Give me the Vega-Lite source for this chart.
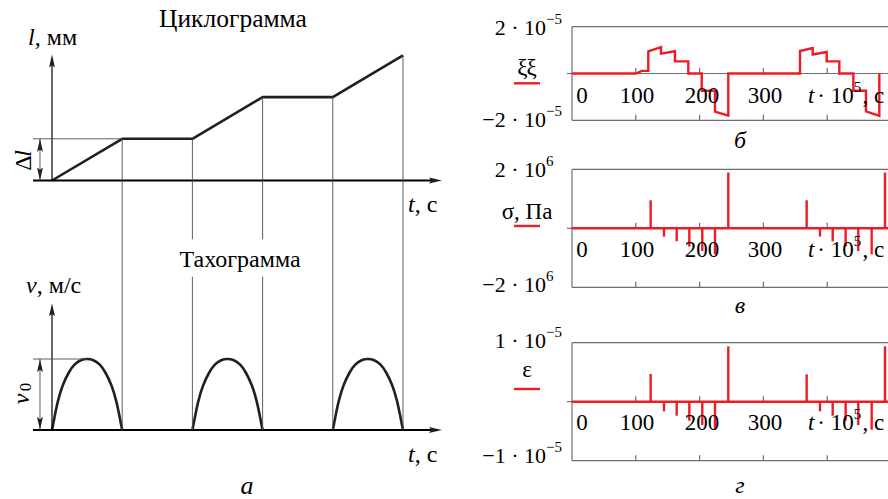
{
"$schema":"https://vega.github.io/schema/vega-lite/v6.json",
"width":888,"height":499,"padding":0,"autosize":{"type":"none"},
"background":"white",
"config":{"view":{"stroke":null},"mark":{"color":"#231f20","font":"Liberation Serif, DejaVu Serif, serif"},"text":{"font":"Liberation Serif, DejaVu Serif, serif","fontSize":22,"baseline":"alphabetic"},"point":{"opacity":1}},
"resolve":{"scale":{"x":"independent","y":"independent"}},
"layer":[
{"layer":[
 {"data":{"values":[{"t":0,"l":0},{"t":1,"l":1},{"t":2,"l":1},{"t":3,"l":2},{"t":4,"l":2},{"t":5,"l":3}]},
  "mark":{"type":"line","strokeWidth":2.6,"strokeJoin":"round"},
  "encoding":{"x":{"field":"t","type":"quantitative","scale":{"domain":[-0.7407,11.909],"nice":false,"zero":false},"axis":null},"y":{"field":"l","type":"quantitative","scale":{"domain":[-7.6379,4.3285],"nice":false,"zero":false},"axis":null}}},
 {"data":{"values":[{"t":-0.2707,"t2":5.45,"l":0}]},"mark":{"type":"rule","strokeWidth":1.8},
  "encoding":{"x":{"field":"t","type":"quantitative","scale":{"domain":[-0.7407,11.909],"nice":false,"zero":false},"axis":null},"x2":{"field":"t2"},"y":{"field":"l","type":"quantitative","scale":{"domain":[-7.6379,4.3285],"nice":false,"zero":false},"axis":null}}},
 {"data":{"values":[{"t":0,"l":0,"l2":2.9}]},"mark":{"type":"rule","strokeWidth":1.2},
  "encoding":{"x":{"field":"t","type":"quantitative","scale":{"domain":[-0.7407,11.909],"nice":false,"zero":false},"axis":null},"y":{"field":"l","type":"quantitative","scale":{"domain":[-7.6379,4.3285],"nice":false,"zero":false},"axis":null},"y2":{"field":"l2"}}},
 {"data":{"values":[{"t":-0.2707,"t2":1,"l":1,"l2":1},{"t":1,"t2":1,"l":1,"l2":-1.6667},{"t":2,"t2":2,"l":1,"l2":-1.41},{"t":3,"t2":3,"l":2,"l2":-1.41},{"t":4,"t2":4,"l":2,"l2":-1.6667},{"t":5,"t2":5,"l":3,"l2":-1.6667},{"t":-0.171,"t2":-0.171,"l":0,"l2":1}]},
  "mark":{"type":"rule","strokeWidth":0.9,"color":"#4d4d4d"},
  "encoding":{"x":{"field":"t","type":"quantitative","scale":{"domain":[-0.7407,11.909],"nice":false,"zero":false},"axis":null},"x2":{"field":"t2"},"y":{"field":"l","type":"quantitative","scale":{"domain":[-7.6379,4.3285],"nice":false,"zero":false},"axis":null},"y2":{"field":"l2"}}},
 {"data":{"values":[{"t":0,"l":3.02},{"t":-0.171,"l":1}]},"mark":{"type":"point","shape":"M0,0L0.5,2.2L0,1.8L-0.5,2.2Z","filled":true,"size":140,"strokeWidth":0},
  "encoding":{"x":{"field":"t","type":"quantitative","scale":{"domain":[-0.7407,11.909],"nice":false,"zero":false},"axis":null},"y":{"field":"l","type":"quantitative","scale":{"domain":[-7.6379,4.3285],"nice":false,"zero":false},"axis":null}}},
 {"data":{"values":[{"t":-0.171,"l":0}]},"mark":{"type":"point","shape":"M0,0L0.5,-2.2L0,-1.8L-0.5,-2.2Z","filled":true,"size":140,"strokeWidth":0},
  "encoding":{"x":{"field":"t","type":"quantitative","scale":{"domain":[-0.7407,11.909],"nice":false,"zero":false},"axis":null},"y":{"field":"l","type":"quantitative","scale":{"domain":[-7.6379,4.3285],"nice":false,"zero":false},"axis":null}}},
 {"data":{"values":[{"t":5.556,"l":0}]},"mark":{"type":"point","shape":"M0,0L-2.2,0.5L-1.8,0L-2.2,-0.5Z","filled":true,"size":140,"strokeWidth":0},
  "encoding":{"x":{"field":"t","type":"quantitative","scale":{"domain":[-0.7407,11.909],"nice":false,"zero":false},"axis":null},"y":{"field":"l","type":"quantitative","scale":{"domain":[-7.6379,4.3285],"nice":false,"zero":false},"axis":null}}},
 {"data":{"values":[{"t":2.578,"l":3.688,"txt":"Циклограмма"}]},"mark":{"type":"text","align":"center","fontSize":25.5,"font":"Liberation Serif, DejaVu Serif, serif"},
  "encoding":{"x":{"field":"t","type":"quantitative","scale":{"domain":[-0.7407,11.909],"nice":false,"zero":false},"axis":null},"y":{"field":"l","type":"quantitative","scale":{"domain":[-7.6379,4.3285],"nice":false,"zero":false},"axis":null},"text":{"field":"txt"}}},
 {"data":{"values":[{"t":-0.342,"l":3.249,"txt":"l"},{"t":5.071,"l":-0.748,"txt":"t"}]},"mark":{"type":"text","align":"left","fontSize":24,"fontStyle":"italic","font":"Liberation Serif, DejaVu Serif, serif"},
  "encoding":{"x":{"field":"t","type":"quantitative","scale":{"domain":[-0.7407,11.909],"nice":false,"zero":false},"axis":null},"y":{"field":"l","type":"quantitative","scale":{"domain":[-7.6379,4.3285],"nice":false,"zero":false},"axis":null},"text":{"field":"txt"}}},
 {"data":{"values":[{"t":-0.246,"l":3.249,"txt":", мм"},{"t":5.166,"l":-0.748,"txt":", с"}]},"mark":{"type":"text","align":"left","fontSize":24,"font":"Liberation Serif, DejaVu Serif, serif"},
  "encoding":{"x":{"field":"t","type":"quantitative","scale":{"domain":[-0.7407,11.909],"nice":false,"zero":false},"axis":null},"y":{"field":"l","type":"quantitative","scale":{"domain":[-7.6379,4.3285],"nice":false,"zero":false},"axis":null},"text":{"field":"txt"}}},
 {"data":{"values":[{"t":-0.399,"l":0.42,"txt":"Δ"}]},"mark":{"type":"text","align":"center","baseline":"middle","angle":270,"fontSize":24,"font":"Liberation Serif, DejaVu Serif, serif"},
  "encoding":{"x":{"field":"t","type":"quantitative","scale":{"domain":[-0.7407,11.909],"nice":false,"zero":false},"axis":null},"y":{"field":"l","type":"quantitative","scale":{"domain":[-7.6379,4.3285],"nice":false,"zero":false},"axis":null},"text":{"field":"txt"}}},
 {"data":{"values":[{"t":-0.399,"l":0.647,"txt":"l"}]},"mark":{"type":"text","align":"center","baseline":"middle","angle":270,"fontSize":24,"fontStyle":"italic","font":"Liberation Serif, DejaVu Serif, serif"},
  "encoding":{"x":{"field":"t","type":"quantitative","scale":{"domain":[-0.7407,11.909],"nice":false,"zero":false},"axis":null},"y":{"field":"l","type":"quantitative","scale":{"domain":[-7.6379,4.3285],"nice":false,"zero":false},"axis":null},"text":{"field":"txt"}}}
]},
{"layer":[
 {"data":{"values":[
  {"arch":1,"t":0,"v":0},{"arch":1,"t":0.036,"v":0.18},{"arch":1,"t":0.083,"v":0.4},{"arch":1,"t":0.154,"v":0.63},{"arch":1,"t":0.24,"v":0.81},{"arch":1,"t":0.32,"v":0.92},{"arch":1,"t":0.41,"v":0.982},{"arch":1,"t":0.5,"v":1},{"arch":1,"t":0.59,"v":0.982},{"arch":1,"t":0.68,"v":0.92},{"arch":1,"t":0.76,"v":0.81},{"arch":1,"t":0.846,"v":0.63},{"arch":1,"t":0.917,"v":0.4},{"arch":1,"t":0.964,"v":0.18},{"arch":1,"t":1,"v":0},
  {"arch":2,"t":2,"v":0},{"arch":2,"t":2.036,"v":0.18},{"arch":2,"t":2.083,"v":0.4},{"arch":2,"t":2.154,"v":0.63},{"arch":2,"t":2.24,"v":0.81},{"arch":2,"t":2.32,"v":0.92},{"arch":2,"t":2.41,"v":0.982},{"arch":2,"t":2.5,"v":1},{"arch":2,"t":2.59,"v":0.982},{"arch":2,"t":2.68,"v":0.92},{"arch":2,"t":2.76,"v":0.81},{"arch":2,"t":2.846,"v":0.63},{"arch":2,"t":2.917,"v":0.4},{"arch":2,"t":2.964,"v":0.18},{"arch":2,"t":3,"v":0},
  {"arch":3,"t":4,"v":0},{"arch":3,"t":4.036,"v":0.18},{"arch":3,"t":4.083,"v":0.4},{"arch":3,"t":4.154,"v":0.63},{"arch":3,"t":4.24,"v":0.81},{"arch":3,"t":4.32,"v":0.92},{"arch":3,"t":4.41,"v":0.982},{"arch":3,"t":4.5,"v":1},{"arch":3,"t":4.59,"v":0.982},{"arch":3,"t":4.68,"v":0.92},{"arch":3,"t":4.76,"v":0.81},{"arch":3,"t":4.846,"v":0.63},{"arch":3,"t":4.917,"v":0.4},{"arch":3,"t":4.964,"v":0.18},{"arch":3,"t":5,"v":0}]},
  "mark":{"type":"line","strokeWidth":2.6,"interpolate":"natural"},
  "encoding":{"x":{"field":"t","type":"quantitative","scale":{"domain":[-0.7407,11.909],"nice":false,"zero":false},"axis":null},"y":{"field":"v","type":"quantitative","scale":{"domain":[-0.9718,6.0563],"nice":false,"zero":false},"axis":null},"detail":{"field":"arch"}}},
 {"data":{"values":[{"t":-0.2707,"t2":5.45,"v":0}]},"mark":{"type":"rule","strokeWidth":1.8},
  "encoding":{"x":{"field":"t","type":"quantitative","scale":{"domain":[-0.7407,11.909],"nice":false,"zero":false},"axis":null},"x2":{"field":"t2"},"y":{"field":"v","type":"quantitative","scale":{"domain":[-0.9718,6.0563],"nice":false,"zero":false},"axis":null}}},
 {"data":{"values":[{"t":0,"v":0,"v2":1.7}]},"mark":{"type":"rule","strokeWidth":1.2},
  "encoding":{"x":{"field":"t","type":"quantitative","scale":{"domain":[-0.7407,11.909],"nice":false,"zero":false},"axis":null},"y":{"field":"v","type":"quantitative","scale":{"domain":[-0.9718,6.0563],"nice":false,"zero":false},"axis":null},"y2":{"field":"v2"}}},
 {"data":{"values":[{"t":-0.2707,"t2":0.5,"v":1,"v2":1},{"t":1,"t2":1,"v":2.535,"v2":0},{"t":2,"t2":2,"v":2.159,"v2":0},{"t":3,"t2":3,"v":2.159,"v2":0},{"t":4,"t2":4,"v":2.535,"v2":0},{"t":5,"t2":5,"v":2.535,"v2":0},{"t":-0.171,"t2":-0.171,"v":0,"v2":1}]},
  "mark":{"type":"rule","strokeWidth":0.9,"color":"#4d4d4d"},
  "encoding":{"x":{"field":"t","type":"quantitative","scale":{"domain":[-0.7407,11.909],"nice":false,"zero":false},"axis":null},"x2":{"field":"t2"},"y":{"field":"v","type":"quantitative","scale":{"domain":[-0.9718,6.0563],"nice":false,"zero":false},"axis":null},"y2":{"field":"v2"}}},
 {"data":{"values":[{"t":0,"v":1.785},{"t":-0.171,"v":1}]},"mark":{"type":"point","shape":"M0,0L0.5,2.2L0,1.8L-0.5,2.2Z","filled":true,"size":140,"strokeWidth":0},
  "encoding":{"x":{"field":"t","type":"quantitative","scale":{"domain":[-0.7407,11.909],"nice":false,"zero":false},"axis":null},"y":{"field":"v","type":"quantitative","scale":{"domain":[-0.9718,6.0563],"nice":false,"zero":false},"axis":null}}},
 {"data":{"values":[{"t":-0.171,"v":0}]},"mark":{"type":"point","shape":"M0,0L0.5,-2.2L0,-1.8L-0.5,-2.2Z","filled":true,"size":140,"strokeWidth":0},
  "encoding":{"x":{"field":"t","type":"quantitative","scale":{"domain":[-0.7407,11.909],"nice":false,"zero":false},"axis":null},"y":{"field":"v","type":"quantitative","scale":{"domain":[-0.9718,6.0563],"nice":false,"zero":false},"axis":null}}},
 {"data":{"values":[{"t":5.556,"v":0}]},"mark":{"type":"point","shape":"M0,0L-2.2,0.5L-1.8,0L-2.2,-0.5Z","filled":true,"size":140,"strokeWidth":0},
  "encoding":{"x":{"field":"t","type":"quantitative","scale":{"domain":[-0.7407,11.909],"nice":false,"zero":false},"axis":null},"y":{"field":"v","type":"quantitative","scale":{"domain":[-0.9718,6.0563],"nice":false,"zero":false},"axis":null}}},
 {"data":{"values":[{"t":2.678,"v":2.296,"txt":"Тахограмма"}]},"mark":{"type":"text","align":"center","fontSize":24,"font":"Liberation Serif, DejaVu Serif, serif"},
  "encoding":{"x":{"field":"t","type":"quantitative","scale":{"domain":[-0.7407,11.909],"nice":false,"zero":false},"axis":null},"y":{"field":"v","type":"quantitative","scale":{"domain":[-0.9718,6.0563],"nice":false,"zero":false},"axis":null},"text":{"field":"txt"}}},
 {"data":{"values":[{"t":-0.37,"v":1.93,"txt":"v"},{"t":5.071,"v":-0.446,"txt":"t"}]},"mark":{"type":"text","align":"left","fontSize":24,"fontStyle":"italic","font":"Liberation Serif, DejaVu Serif, serif"},
  "encoding":{"x":{"field":"t","type":"quantitative","scale":{"domain":[-0.7407,11.909],"nice":false,"zero":false},"axis":null},"y":{"field":"v","type":"quantitative","scale":{"domain":[-0.9718,6.0563],"nice":false,"zero":false},"axis":null},"text":{"field":"txt"}}},
 {"data":{"values":[{"t":-0.218,"v":1.93,"txt":", м/с"},{"t":5.166,"v":-0.446,"txt":", с"}]},"mark":{"type":"text","align":"left","fontSize":24,"font":"Liberation Serif, DejaVu Serif, serif"},
  "encoding":{"x":{"field":"t","type":"quantitative","scale":{"domain":[-0.7407,11.909],"nice":false,"zero":false},"axis":null},"y":{"field":"v","type":"quantitative","scale":{"domain":[-0.9718,6.0563],"nice":false,"zero":false},"axis":null},"text":{"field":"txt"}}},
 {"data":{"values":[{"t":2.778,"v":-0.901,"txt":"а"}]},"mark":{"type":"text","align":"center","fontSize":26,"fontStyle":"italic","font":"Liberation Serif, DejaVu Serif, serif"},
  "encoding":{"x":{"field":"t","type":"quantitative","scale":{"domain":[-0.7407,11.909],"nice":false,"zero":false},"axis":null},"y":{"field":"v","type":"quantitative","scale":{"domain":[-0.9718,6.0563],"nice":false,"zero":false},"axis":null},"text":{"field":"txt"}}},
 {"data":{"values":[{"t":-0.427,"v":0.437,"txt":"v"}]},"mark":{"type":"text","align":"center","baseline":"middle","angle":270,"fontSize":24,"fontStyle":"italic","font":"Liberation Serif, DejaVu Serif, serif"},
  "encoding":{"x":{"field":"t","type":"quantitative","scale":{"domain":[-0.7407,11.909],"nice":false,"zero":false},"axis":null},"y":{"field":"v","type":"quantitative","scale":{"domain":[-0.9718,6.0563],"nice":false,"zero":false},"axis":null},"text":{"field":"txt"}}},
 {"data":{"values":[{"t":-0.37,"v":0.606,"txt":"0"}]},"mark":{"type":"text","align":"center","baseline":"middle","angle":270,"fontSize":17,"font":"Liberation Serif, DejaVu Serif, serif"},
  "encoding":{"x":{"field":"t","type":"quantitative","scale":{"domain":[-0.7407,11.909],"nice":false,"zero":false},"axis":null},"y":{"field":"v","type":"quantitative","scale":{"domain":[-0.9718,6.0563],"nice":false,"zero":false},"axis":null},"text":{"field":"txt"}}}
]},
{"layer":[
 {"data":{"values":[{"t":0,"t2":495.3,"y":2e-5,"y2":2e-5},{"t":0,"t2":495.3,"y":-2e-5,"y2":-2e-5},{"t":0,"t2":0,"y":-2e-5,"y2":2e-5},{"t":0,"t2":495.3,"y":0,"y2":0}]},
  "mark":{"type":"rule","strokeWidth":1.2,"color":"#6d6e71"},
  "encoding":{"x":{"field":"t","type":"quantitative","scale":{"domain":[-896.55,495.3],"nice":false,"zero":false},"axis":null},"x2":{"field":"t2"},"y":{"field":"y","type":"quantitative","scale":{"domain":[-1.81838e-4,3.14103e-5],"nice":false,"zero":false},"axis":null},"y2":{"field":"y2"}}},
 {"data":{"values":[{"t":100,"y":0},{"t":200,"y":0},{"t":300,"y":0},{"t":400,"y":0},{"t":100,"y":-2e-5},{"t":200,"y":-2e-5},{"t":300,"y":-2e-5},{"t":400,"y":-2e-5}]},
  "mark":{"type":"point","shape":"M0,0L0,-1","filled":false,"size":121,"strokeWidth":1.2,"color":"#6d6e71"},
  "encoding":{"x":{"field":"t","type":"quantitative","scale":{"domain":[-896.55,495.3],"nice":false,"zero":false},"axis":null},"y":{"field":"y","type":"quantitative","scale":{"domain":[-1.81838e-4,3.14103e-5],"nice":false,"zero":false},"axis":null}}},
 {"data":{"values":[{"t":0,"y":0}]},
  "mark":{"type":"point","shape":"M-1,0L0,0","filled":false,"size":100,"strokeWidth":1.2,"color":"#6d6e71"},
  "encoding":{"x":{"field":"t","type":"quantitative","scale":{"domain":[-896.55,495.3],"nice":false,"zero":false},"axis":null},"y":{"field":"y","type":"quantitative","scale":{"domain":[-1.81838e-4,3.14103e-5],"nice":false,"zero":false},"axis":null}}},
 {"data":{"values":[{"i":1,"t":0,"y":0},{"i":2,"t":100.3,"y":0},{"i":3,"t":109.2,"y":1.13e-6},{"i":4,"t":119.6,"y":1.13e-6},{"i":5,"t":119.6,"y":9.5e-6},{"i":6,"t":139.5,"y":1.13e-5},{"i":7,"t":139.5,"y":8.5e-6},{"i":8,"t":161.4,"y":9.5e-6},{"i":9,"t":161.4,"y":5.2e-6},{"i":10,"t":182.3,"y":5.2e-6},{"i":11,"t":182.3,"y":0},{"i":12,"t":203.3,"y":0},{"i":13,"t":203.3,"y":-7.4e-6},{"i":14,"t":224.1,"y":-7.4e-6},{"i":15,"t":224.1,"y":-1.63e-5},{"i":16,"t":245,"y":-1.8e-5},{"i":17,"t":245,"y":0},{"i":18,"t":357.4,"y":0},{"i":19,"t":357.4,"y":9.6e-6},{"i":20,"t":377.3,"y":1.09e-5},{"i":21,"t":377.3,"y":8.1e-6},{"i":22,"t":399.2,"y":9.2e-6},{"i":23,"t":399.2,"y":5.2e-6},{"i":24,"t":419,"y":5.2e-6},{"i":25,"t":419,"y":0},{"i":26,"t":441,"y":0},{"i":27,"t":441,"y":-7.4e-6},{"i":28,"t":460.8,"y":-7.4e-6},{"i":29,"t":460.8,"y":-1.62e-5},{"i":30,"t":481.7,"y":-1.81e-5},{"i":31,"t":481.7,"y":0}]},
  "mark":{"type":"line","strokeWidth":2.4,"color":"#ed1c24","strokeJoin":"miter"},
  "encoding":{"x":{"field":"t","type":"quantitative","scale":{"domain":[-896.55,495.3],"nice":false,"zero":false},"axis":null},"y":{"field":"y","type":"quantitative","scale":{"domain":[-1.81838e-4,3.14103e-5],"nice":false,"zero":false},"axis":null},"order":{"field":"i"}}},
 {"data":{"values":[{"t":-90.91,"t2":-50.16,"y":-4.188e-6}]},"mark":{"type":"rule","strokeWidth":2.4,"color":"#ed1c24"},
  "encoding":{"x":{"field":"t","type":"quantitative","scale":{"domain":[-896.55,495.3],"nice":false,"zero":false},"axis":null},"x2":{"field":"t2"},"y":{"field":"y","type":"quantitative","scale":{"domain":[-1.81838e-4,3.14103e-5],"nice":false,"zero":false},"axis":null}}},
 {"data":{"values":[{"t":-40.75,"y":1.6453e-5,"txt":"2 · 10"},{"t":-40.75,"y":-2.2863e-5,"txt":"−2 · 10"}]},"mark":{"type":"text","align":"right","font":"Liberation Serif, DejaVu Serif, serif"},
  "encoding":{"x":{"field":"t","type":"quantitative","scale":{"domain":[-896.55,495.3],"nice":false,"zero":false},"axis":null},"y":{"field":"y","type":"quantitative","scale":{"domain":[-1.81838e-4,3.14103e-5],"nice":false,"zero":false},"axis":null},"text":{"field":"txt"}}},
 {"data":{"values":[{"t":-40.75,"y":1.6453e-5,"txt":"−5"},{"t":-40.75,"y":-2.2863e-5,"txt":"−5"},{"t":441.5,"y":-1.2607e-5,"txt":"5"}]},"mark":{"type":"text","align":"left","fontSize":15,"dy":-11,"font":"Liberation Serif, DejaVu Serif, serif"},
  "encoding":{"x":{"field":"t","type":"quantitative","scale":{"domain":[-896.55,495.3],"nice":false,"zero":false},"axis":null},"y":{"field":"y","type":"quantitative","scale":{"domain":[-1.81838e-4,3.14103e-5],"nice":false,"zero":false},"axis":null},"text":{"field":"txt"}}},
 {"data":{"values":[{"t":-70.53,"y":-6.41e-7,"txt":"ξξ"},{"t":15.67,"y":-1.2607e-5,"txt":"0"},{"t":101.88,"y":-1.2607e-5,"txt":"100"},{"t":203.76,"y":-1.2607e-5,"txt":"200"},{"t":302.51,"y":-1.2607e-5,"txt":"300"}]},"mark":{"type":"text","align":"center","fontSize":23,"font":"Liberation Serif, DejaVu Serif, serif"},
  "encoding":{"x":{"field":"t","type":"quantitative","scale":{"domain":[-896.55,495.3],"nice":false,"zero":false},"axis":null},"y":{"field":"y","type":"quantitative","scale":{"domain":[-1.81838e-4,3.14103e-5],"nice":false,"zero":false},"axis":null},"text":{"field":"txt"}}},
 {"data":{"values":[{"t":384.5,"y":-1.2607e-5,"txt":"· 10"},{"t":455.5,"y":-1.2607e-5,"txt":", с"}]},"mark":{"type":"text","align":"left","fontSize":23,"font":"Liberation Serif, DejaVu Serif, serif"},
  "encoding":{"x":{"field":"t","type":"quantitative","scale":{"domain":[-896.55,495.3],"nice":false,"zero":false},"axis":null},"y":{"field":"y","type":"quantitative","scale":{"domain":[-1.81838e-4,3.14103e-5],"nice":false,"zero":false},"axis":null},"text":{"field":"txt"}}},
 {"data":{"values":[{"t":369.91,"y":-1.2607e-5,"txt":"t"}]},"mark":{"type":"text","align":"left","fontSize":23,"fontStyle":"italic","font":"Liberation Serif, DejaVu Serif, serif"},
  "encoding":{"x":{"field":"t","type":"quantitative","scale":{"domain":[-896.55,495.3],"nice":false,"zero":false},"axis":null},"y":{"field":"y","type":"quantitative","scale":{"domain":[-1.81838e-4,3.14103e-5],"nice":false,"zero":false},"axis":null},"text":{"field":"txt"}}},
 {"data":{"values":[{"t":263.32,"y":-3.1838e-5,"txt":"б"}]},"mark":{"type":"text","align":"center","fontSize":24,"fontStyle":"italic","font":"Liberation Serif, DejaVu Serif, serif"},
  "encoding":{"x":{"field":"t","type":"quantitative","scale":{"domain":[-896.55,495.3],"nice":false,"zero":false},"axis":null},"y":{"field":"y","type":"quantitative","scale":{"domain":[-1.81838e-4,3.14103e-5],"nice":false,"zero":false},"axis":null},"text":{"field":"txt"}}}
]},
{"layer":[
 {"data":{"values":[{"t":0,"t2":495.3,"y":2e6,"y2":2e6},{"t":0,"t2":495.3,"y":-2e6,"y2":-2e6},{"t":0,"t2":0,"y":-2e6,"y2":2e6},{"t":0,"t2":495.3,"y":0,"y2":0}]},
  "mark":{"type":"rule","strokeWidth":1.2,"color":"#6d6e71"},
  "encoding":{"x":{"field":"t","type":"quantitative","scale":{"domain":[-896.55,495.3],"nice":false,"zero":false},"axis":null},"x2":{"field":"t2"},"y":{"field":"y","type":"quantitative","scale":{"domain":[-9.17627e6,7.73898e6],"nice":false,"zero":false},"axis":null},"y2":{"field":"y2"}}},
 {"data":{"values":[{"t":100,"y":0},{"t":200,"y":0},{"t":300,"y":0},{"t":400,"y":0},{"t":100,"y":-2e6},{"t":200,"y":-2e6},{"t":300,"y":-2e6},{"t":400,"y":-2e6}]},
  "mark":{"type":"point","shape":"M0,0L0,-1","filled":false,"size":121,"strokeWidth":1.2,"color":"#6d6e71"},
  "encoding":{"x":{"field":"t","type":"quantitative","scale":{"domain":[-896.55,495.3],"nice":false,"zero":false},"axis":null},"y":{"field":"y","type":"quantitative","scale":{"domain":[-9.17627e6,7.73898e6],"nice":false,"zero":false},"axis":null}}},
 {"data":{"values":[{"t":0,"y":0}]},
  "mark":{"type":"point","shape":"M-1,0L0,0","filled":false,"size":100,"strokeWidth":1.2,"color":"#6d6e71"},
  "encoding":{"x":{"field":"t","type":"quantitative","scale":{"domain":[-896.55,495.3],"nice":false,"zero":false},"axis":null},"y":{"field":"y","type":"quantitative","scale":{"domain":[-9.17627e6,7.73898e6],"nice":false,"zero":false},"axis":null}}},
 {"data":{"values":[{"t":0,"t2":495.3,"y":0}]},"mark":{"type":"rule","strokeWidth":2.4,"color":"#ed1c24"},
  "encoding":{"x":{"field":"t","type":"quantitative","scale":{"domain":[-896.55,495.3],"nice":false,"zero":false},"axis":null},"x2":{"field":"t2"},"y":{"field":"y","type":"quantitative","scale":{"domain":[-9.17627e6,7.73898e6],"nice":false,"zero":false},"axis":null}}},
 {"data":{"values":[{"t":123.3,"y":9.5e5},{"t":144.2,"y":-2.8e5},{"t":164.1,"y":-4.4e5},{"t":183.9,"y":-6.2e5},{"t":204.2,"y":-7.7e5},{"t":224.1,"y":-8.8e5},{"t":245,"y":1.89e6},{"t":367.8,"y":9.5e5},{"t":388.7,"y":-2.8e5},{"t":408.6,"y":-4.4e5},{"t":428.9,"y":-6.2e5},{"t":448.7,"y":-7.7e5},{"t":469.7,"y":-8.8e5},{"t":490.6,"y":1.89e6}]},
  "mark":{"type":"rule","strokeWidth":2.4,"color":"#ed1c24"},
  "encoding":{"x":{"field":"t","type":"quantitative","scale":{"domain":[-896.55,495.3],"nice":false,"zero":false},"axis":null},"y":{"field":"y","type":"quantitative","scale":{"domain":[-9.17627e6,7.73898e6],"nice":false,"zero":false},"axis":null},"y2":{"datum":0}}},
 {"data":{"values":[{"t":-90.91,"t2":-50.16,"y":7.8e4}]},"mark":{"type":"rule","strokeWidth":2.4,"color":"#ed1c24"},
  "encoding":{"x":{"field":"t","type":"quantitative","scale":{"domain":[-896.55,495.3],"nice":false,"zero":false},"axis":null},"x2":{"field":"t2"},"y":{"field":"y","type":"quantitative","scale":{"domain":[-9.17627e6,7.73898e6],"nice":false,"zero":false},"axis":null}}},
 {"data":{"values":[{"t":-40.75,"y":1.739e6,"txt":"2 · 10"},{"t":-40.75,"y":-2.149e6,"txt":"−2 · 10"}]},"mark":{"type":"text","align":"right","font":"Liberation Serif, DejaVu Serif, serif"},
  "encoding":{"x":{"field":"t","type":"quantitative","scale":{"domain":[-896.55,495.3],"nice":false,"zero":false},"axis":null},"y":{"field":"y","type":"quantitative","scale":{"domain":[-9.17627e6,7.73898e6],"nice":false,"zero":false},"axis":null},"text":{"field":"txt"}}},
 {"data":{"values":[{"t":-40.75,"y":1.739e6,"txt":"6"},{"t":-40.75,"y":-2.149e6,"txt":"6"},{"t":441.5,"y":-9.627e5,"txt":"5"}]},"mark":{"type":"text","align":"left","fontSize":15,"dy":-11,"font":"Liberation Serif, DejaVu Serif, serif"},
  "encoding":{"x":{"field":"t","type":"quantitative","scale":{"domain":[-896.55,495.3],"nice":false,"zero":false},"axis":null},"y":{"field":"y","type":"quantitative","scale":{"domain":[-9.17627e6,7.73898e6],"nice":false,"zero":false},"axis":null},"text":{"field":"txt"}}},
 {"data":{"values":[{"t":-70.53,"y":3.153e5,"txt":"σ, Па"},{"t":15.67,"y":-9.627e5,"txt":"0"},{"t":101.88,"y":-9.627e5,"txt":"100"},{"t":203.76,"y":-9.627e5,"txt":"200"},{"t":302.51,"y":-9.627e5,"txt":"300"}]},"mark":{"type":"text","align":"center","fontSize":23,"font":"Liberation Serif, DejaVu Serif, serif"},
  "encoding":{"x":{"field":"t","type":"quantitative","scale":{"domain":[-896.55,495.3],"nice":false,"zero":false},"axis":null},"y":{"field":"y","type":"quantitative","scale":{"domain":[-9.17627e6,7.73898e6],"nice":false,"zero":false},"axis":null},"text":{"field":"txt"}}},
 {"data":{"values":[{"t":384.5,"y":-9.627e5,"txt":"· 10"},{"t":455.5,"y":-9.627e5,"txt":", с"}]},"mark":{"type":"text","align":"left","fontSize":23,"font":"Liberation Serif, DejaVu Serif, serif"},
  "encoding":{"x":{"field":"t","type":"quantitative","scale":{"domain":[-896.55,495.3],"nice":false,"zero":false},"axis":null},"y":{"field":"y","type":"quantitative","scale":{"domain":[-9.17627e6,7.73898e6],"nice":false,"zero":false},"axis":null},"text":{"field":"txt"}}},
 {"data":{"values":[{"t":369.91,"y":-9.627e5,"txt":"t"}]},"mark":{"type":"text","align":"left","fontSize":23,"fontStyle":"italic","font":"Liberation Serif, DejaVu Serif, serif"},
  "encoding":{"x":{"field":"t","type":"quantitative","scale":{"domain":[-896.55,495.3],"nice":false,"zero":false},"axis":null},"y":{"field":"y","type":"quantitative","scale":{"domain":[-9.17627e6,7.73898e6],"nice":false,"zero":false},"axis":null},"text":{"field":"txt"}}},
 {"data":{"values":[{"t":263.32,"y":-2.8814e6,"txt":"в"}]},"mark":{"type":"text","align":"center","fontSize":24,"fontStyle":"italic","font":"Liberation Serif, DejaVu Serif, serif"},
  "encoding":{"x":{"field":"t","type":"quantitative","scale":{"domain":[-896.55,495.3],"nice":false,"zero":false},"axis":null},"y":{"field":"y","type":"quantitative","scale":{"domain":[-9.17627e6,7.73898e6],"nice":false,"zero":false},"axis":null},"text":{"field":"txt"}}}
]},
{"layer":[
 {"data":{"values":[{"t":0,"t2":495.3,"y":1e-5,"y2":1e-5},{"t":0,"t2":495.3,"y":-1e-5,"y2":-1e-5},{"t":0,"t2":0,"y":-1e-5,"y2":1e-5},{"t":0,"t2":495.3,"y":0,"y2":0}]},
  "mark":{"type":"rule","strokeWidth":1.2,"color":"#6d6e71"},
  "encoding":{"x":{"field":"t","type":"quantitative","scale":{"domain":[-896.55,495.3],"nice":false,"zero":false},"axis":null},"x2":{"field":"t2"},"y":{"field":"y","type":"quantitative","scale":{"domain":[-1.64915e-5,6.80847e-5],"nice":false,"zero":false},"axis":null},"y2":{"field":"y2"}}},
 {"data":{"values":[{"t":100,"y":0},{"t":200,"y":0},{"t":300,"y":0},{"t":400,"y":0},{"t":100,"y":-1e-5},{"t":200,"y":-1e-5},{"t":300,"y":-1e-5},{"t":400,"y":-1e-5}]},
  "mark":{"type":"point","shape":"M0,0L0,-1","filled":false,"size":121,"strokeWidth":1.2,"color":"#6d6e71"},
  "encoding":{"x":{"field":"t","type":"quantitative","scale":{"domain":[-896.55,495.3],"nice":false,"zero":false},"axis":null},"y":{"field":"y","type":"quantitative","scale":{"domain":[-1.64915e-5,6.80847e-5],"nice":false,"zero":false},"axis":null}}},
 {"data":{"values":[{"t":0,"y":0}]},
  "mark":{"type":"point","shape":"M-1,0L0,0","filled":false,"size":100,"strokeWidth":1.2,"color":"#6d6e71"},
  "encoding":{"x":{"field":"t","type":"quantitative","scale":{"domain":[-896.55,495.3],"nice":false,"zero":false},"axis":null},"y":{"field":"y","type":"quantitative","scale":{"domain":[-1.64915e-5,6.80847e-5],"nice":false,"zero":false},"axis":null}}},
 {"data":{"values":[{"t":0,"t2":495.3,"y":0}]},"mark":{"type":"rule","strokeWidth":2.4,"color":"#ed1c24"},
  "encoding":{"x":{"field":"t","type":"quantitative","scale":{"domain":[-896.55,495.3],"nice":false,"zero":false},"axis":null},"x2":{"field":"t2"},"y":{"field":"y","type":"quantitative","scale":{"domain":[-1.64915e-5,6.80847e-5],"nice":false,"zero":false},"axis":null}}},
 {"data":{"values":[{"t":123.3,"y":4.7e-6},{"t":144.2,"y":-1.64e-6},{"t":164.1,"y":-2.37e-6},{"t":183.9,"y":-3.22e-6},{"t":204.2,"y":-3.95e-6},{"t":224.1,"y":-4.75e-6},{"t":245,"y":9.38e-6},{"t":367.8,"y":4.65e-6},{"t":388.7,"y":-1.64e-6},{"t":408.6,"y":-2.37e-6},{"t":428.9,"y":-3.22e-6},{"t":448.7,"y":-3.95e-6},{"t":469.7,"y":-4.75e-6},{"t":490.6,"y":9.38e-6}]},
  "mark":{"type":"rule","strokeWidth":2.4,"color":"#ed1c24"},
  "encoding":{"x":{"field":"t","type":"quantitative","scale":{"domain":[-896.55,495.3],"nice":false,"zero":false},"axis":null},"y":{"field":"y","type":"quantitative","scale":{"domain":[-1.64915e-5,6.80847e-5],"nice":false,"zero":false},"axis":null},"y2":{"datum":0}}},
 {"data":{"values":[{"t":-90.91,"t2":-50.16,"y":2.153e-6}]},"mark":{"type":"rule","strokeWidth":2.4,"color":"#ed1c24"},
  "encoding":{"x":{"field":"t","type":"quantitative","scale":{"domain":[-896.55,495.3],"nice":false,"zero":false},"axis":null},"x2":{"field":"t2"},"y":{"field":"y","type":"quantitative","scale":{"domain":[-1.64915e-5,6.80847e-5],"nice":false,"zero":false},"axis":null}}},
 {"data":{"values":[{"t":-40.75,"y":9.051e-6,"txt":"1 · 10"},{"t":-40.75,"y":-1.0441e-5,"txt":"−1 · 10"}]},"mark":{"type":"text","align":"right","font":"Liberation Serif, DejaVu Serif, serif"},
  "encoding":{"x":{"field":"t","type":"quantitative","scale":{"domain":[-896.55,495.3],"nice":false,"zero":false},"axis":null},"y":{"field":"y","type":"quantitative","scale":{"domain":[-1.64915e-5,6.80847e-5],"nice":false,"zero":false},"axis":null},"text":{"field":"txt"}}},
 {"data":{"values":[{"t":-40.75,"y":9.051e-6,"txt":"−5"},{"t":-40.75,"y":-1.0441e-5,"txt":"−5"},{"t":441.5,"y":-4.797e-6,"txt":"5"}]},"mark":{"type":"text","align":"left","fontSize":15,"dy":-11,"font":"Liberation Serif, DejaVu Serif, serif"},
  "encoding":{"x":{"field":"t","type":"quantitative","scale":{"domain":[-896.55,495.3],"nice":false,"zero":false},"axis":null},"y":{"field":"y","type":"quantitative","scale":{"domain":[-1.64915e-5,6.80847e-5],"nice":false,"zero":false},"axis":null},"text":{"field":"txt"}}},
 {"data":{"values":[{"t":-70.53,"y":4.237e-6,"txt":"ε"},{"t":15.67,"y":-4.797e-6,"txt":"0"},{"t":101.88,"y":-4.797e-6,"txt":"100"},{"t":203.76,"y":-4.797e-6,"txt":"200"},{"t":302.51,"y":-4.797e-6,"txt":"300"}]},"mark":{"type":"text","align":"center","fontSize":23,"font":"Liberation Serif, DejaVu Serif, serif"},
  "encoding":{"x":{"field":"t","type":"quantitative","scale":{"domain":[-896.55,495.3],"nice":false,"zero":false},"axis":null},"y":{"field":"y","type":"quantitative","scale":{"domain":[-1.64915e-5,6.80847e-5],"nice":false,"zero":false},"axis":null},"text":{"field":"txt"}}},
 {"data":{"values":[{"t":384.5,"y":-4.797e-6,"txt":"· 10"},{"t":455.5,"y":-4.797e-6,"txt":", с"}]},"mark":{"type":"text","align":"left","fontSize":23,"font":"Liberation Serif, DejaVu Serif, serif"},
  "encoding":{"x":{"field":"t","type":"quantitative","scale":{"domain":[-896.55,495.3],"nice":false,"zero":false},"axis":null},"y":{"field":"y","type":"quantitative","scale":{"domain":[-1.64915e-5,6.80847e-5],"nice":false,"zero":false},"axis":null},"text":{"field":"txt"}}},
 {"data":{"values":[{"t":369.91,"y":-4.797e-6,"txt":"t"}]},"mark":{"type":"text","align":"left","fontSize":23,"fontStyle":"italic","font":"Liberation Serif, DejaVu Serif, serif"},
  "encoding":{"x":{"field":"t","type":"quantitative","scale":{"domain":[-896.55,495.3],"nice":false,"zero":false},"axis":null},"y":{"field":"y","type":"quantitative","scale":{"domain":[-1.64915e-5,6.80847e-5],"nice":false,"zero":false},"axis":null},"text":{"field":"txt"}}},
 {"data":{"values":[{"t":263.32,"y":-1.5525e-5,"txt":"г"}]},"mark":{"type":"text","align":"center","fontSize":24,"fontStyle":"italic","font":"Liberation Serif, DejaVu Serif, serif"},
  "encoding":{"x":{"field":"t","type":"quantitative","scale":{"domain":[-896.55,495.3],"nice":false,"zero":false},"axis":null},"y":{"field":"y","type":"quantitative","scale":{"domain":[-1.64915e-5,6.80847e-5],"nice":false,"zero":false},"axis":null},"text":{"field":"txt"}}}
]}
]
}
